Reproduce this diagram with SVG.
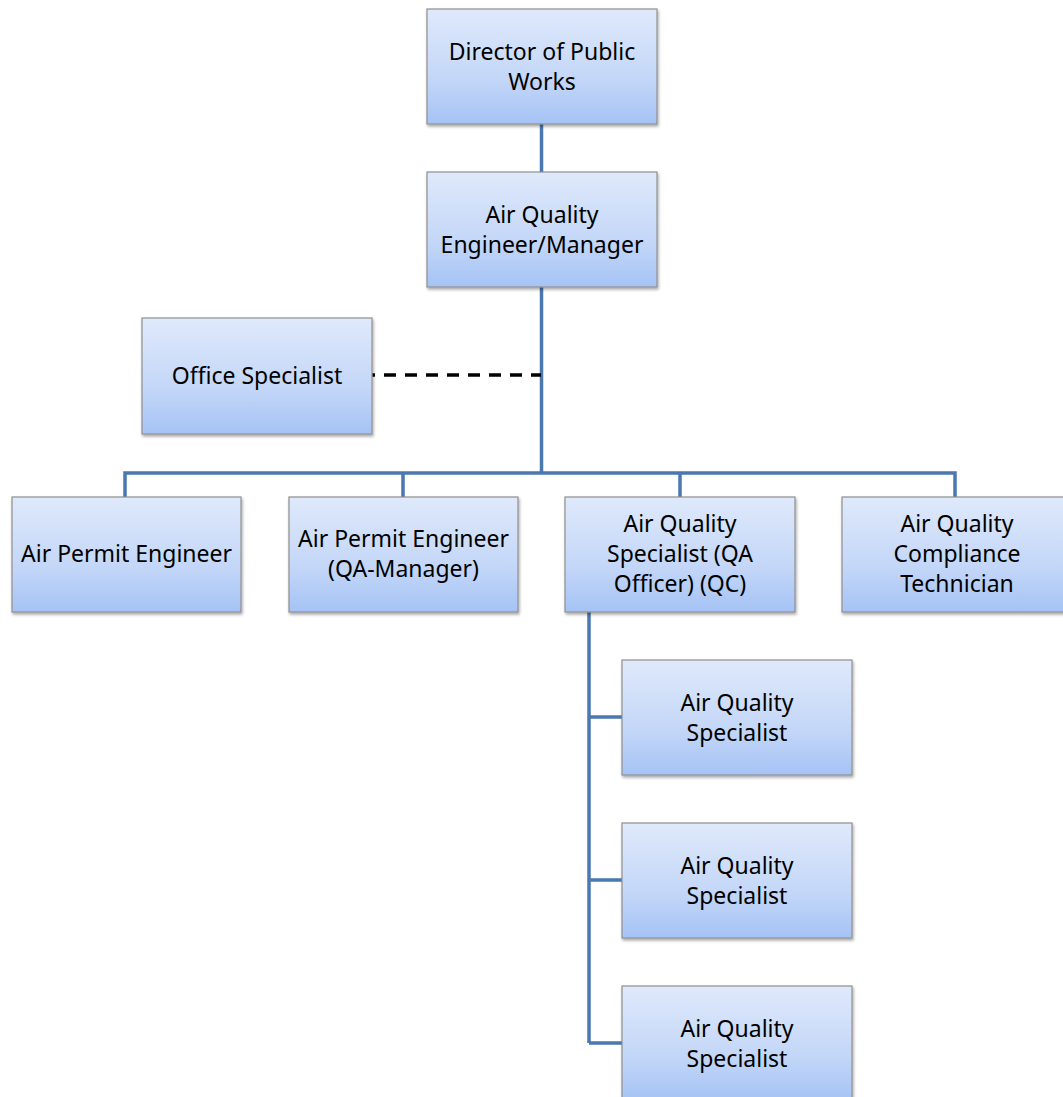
<svg xmlns="http://www.w3.org/2000/svg" width="1063" height="1097" viewBox="0 0 1063 1097">
<defs>
<linearGradient id="g" x1="0" y1="0" x2="0" y2="1">
<stop offset="0" stop-color="#dfe9fb"/>
<stop offset="0.6" stop-color="#c4d7f8"/>
<stop offset="1" stop-color="#a5c3f5"/>
</linearGradient>
<filter id="sh" x="-5%" y="-5%" width="112%" height="115%">
<feGaussianBlur in="SourceAlpha" stdDeviation="1.5"/>
<feOffset dx="1" dy="2" result="b"/>
<feComponentTransfer><feFuncA type="linear" slope="0.35"/></feComponentTransfer>
<feMerge><feMergeNode/><feMergeNode in="SourceGraphic"/></feMerge>
</filter>
</defs>
<style>
.box{fill:url(#g);stroke:#8f8f8f;stroke-width:1.2;filter:url(#sh)}
.t{font-family:"Noto Sans","Open Sans",sans-serif;font-size:23px;fill:#000;text-anchor:middle}
.c{fill:none;stroke:#4a78b0;stroke-width:3.5}
.d{fill:none;stroke:#000;stroke-width:3.5}
</style>
<rect width="1063" height="1097" fill="#fff"/>
<g id="connectors">
<path class="c" d="M541.5 124V172M541.5 287V473M125 497V473H955V497M403 473V497M680 473V497"/>
<path class="d" d="M372 375H541" stroke-dasharray="3 9 12 9 12 9 12 9 12 9 12 9 12 9 12 9 12 9 12 9 12 9"/>
<path class="c" d="M589 612V1043M589 717H622M589 880H622M589 1043H622"/>
</g>
<g id="director"><rect class="box" x="427" y="9" width="230" height="115"/><text class="t" x="542" y="60">Director of Public</text><text class="t" x="542" y="90">Works</text></g>
<g id="manager"><rect class="box" x="427" y="172" width="230" height="115"/><text class="t" x="542" y="223">Air Quality</text><text class="t" x="542" y="253">Engineer/Manager</text></g>
<g id="office"><rect class="box" x="142" y="318" width="230" height="116"/><text class="t" x="257" y="384">Office Specialist</text></g>
<g id="ape1"><rect class="box" x="12" y="497" width="229" height="115"/><text class="t" x="126.5" y="562">Air Permit Engineer</text></g>
<g id="ape2"><rect class="box" x="289" y="497" width="229" height="115"/><text class="t" x="403.5" y="547">Air Permit Engineer</text><text class="t" x="403.5" y="577">(QA-Manager)</text></g>
<g id="aqs-qa"><rect class="box" x="565" y="497" width="230" height="115"/><text class="t" x="680" y="532">Air Quality</text><text class="t" x="680" y="562">Specialist (QA</text><text class="t" x="680" y="592">Officer) (QC)</text></g>
<g id="tech"><rect class="box" x="842" y="497" width="230" height="115"/><text class="t" x="957" y="532">Air Quality</text><text class="t" x="957" y="562">Compliance</text><text class="t" x="957" y="592">Technician</text></g>
<g id="aqs1"><rect class="box" x="622" y="660" width="230" height="115"/><text class="t" x="737" y="711">Air Quality</text><text class="t" x="737" y="741">Specialist</text></g>
<g id="aqs2"><rect class="box" x="622" y="823" width="230" height="115"/><text class="t" x="737" y="874">Air Quality</text><text class="t" x="737" y="904">Specialist</text></g>
<g id="aqs3"><rect class="box" x="622" y="986" width="230" height="115"/><text class="t" x="737" y="1037">Air Quality</text><text class="t" x="737" y="1067">Specialist</text></g>
</svg>
